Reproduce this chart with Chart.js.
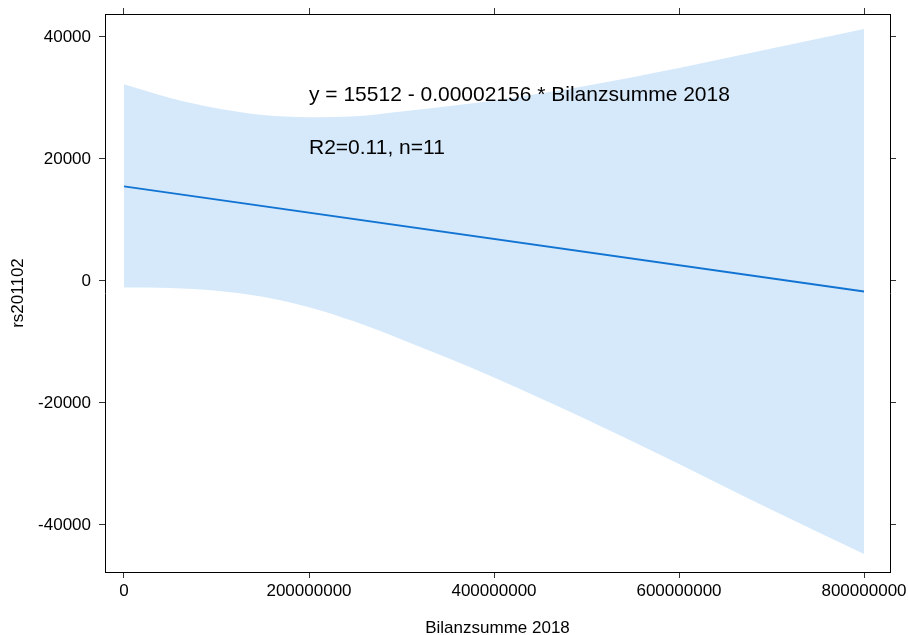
<!DOCTYPE html>
<html>
<head>
<meta charset="utf-8">
<script src="https://cdn.jsdelivr.net/npm/chart.js@4.4.1/dist/chart.umd.min.js"></script>
<style>
  body { margin: 0; background: #fff; }
  #wrap { width: 908px; height: 635px; }
</style>
</head>
<body>
<div id="wrap"><canvas id="regChart" width="908" height="635"></canvas></div>
<script>
// confidence band
const bandX = [0, 50000000, 100000000, 150000000, 200000000, 250000000, 300000000,
  400000000, 500000000, 600000000, 700000000, 800000000];
const bandUpper = [32250, 30000, 28300, 27200, 26850, 27000, 27800, 29600, 32000, 34900, 38100, 41300];
const bandLower = [-1050, -1150, -1600, -2600, -4300, -6700, -9600, -15800, -22700, -30000, -37500, -44750];

// fitted line
const fitX = [0, 800000000];
const fitY = [15512, -1736];

const xTicks = [0, 200000000, 400000000, 600000000, 800000000];
const yTicks = [-40000, -20000, 0, 20000, 40000];
const notes = ["y = 15512 - 0.00002156 * Bilanzsumme 2018", "R2=0.11, n=11"];

function pts(xs, ys) {
  return xs.map((x, i) => ({ x: x, y: ys[i] }));
}

const FONT = "'Liberation Sans', Arial, sans-serif";

// text annotations inside the panel
const notePlugin = {
  id: 'notes',
  afterDatasetsDraw(chart) {
    const ctx = chart.ctx;
    const xs = chart.scales.x, ys = chart.scales.y;
    ctx.save();
    ctx.font = "21px " + FONT;
    ctx.fillStyle = "#000";
    ctx.textAlign = "left";
    ctx.textBaseline = "middle";
    ctx.fillText(notes[0], xs.getPixelForValue(200000000), ys.getPixelForValue(30500));
    ctx.fillText(notes[1], xs.getPixelForValue(200000000), ys.getPixelForValue(21800));
    ctx.restore();
  }
};

const xRange = { min: -20540000, max: 828100000 };
const yRange = { min: -47705, max: 43770 };

function setTicks(list) {
  return function(scale) { scale.ticks = list.map(v => ({ value: v })); };
}

// fixed box sizes, no extra room for overhanging labels
function fixSize(w, h) {
  return function(s) {
    if (w !== null) s.width = w;
    if (h !== null) s.height = h;
    s.paddingLeft = 0; s.paddingRight = 0; s.paddingTop = 0; s.paddingBottom = 0;
  };
}

const gridOpts = { drawOnChartArea: false, drawTicks: true, tickLength: 6, color: "#333" };
const borderOpts = { display: true, color: "#000", width: 1 };
const tickFont = { family: FONT, size: 17 };

var config = {
  type: 'line',
  data: {
    datasets: [
      {
        label: "fit",
        data: pts(fitX, fitY),
        borderColor: "#1274d2",
        borderWidth: 2,
        pointRadius: 0,
        fill: false
      },
      {
        label: "upper",
        data: pts(bandX, bandUpper),
        borderWidth: 0,
        borderColor: "rgba(0,0,0,0)",
        backgroundColor: "#d6e9fb",
        pointRadius: 0,
        cubicInterpolationMode: 'monotone',
        fill: '+1'
      },
      {
        label: "lower",
        data: pts(bandX, bandLower),
        borderWidth: 0,
        borderColor: "rgba(0,0,0,0)",
        pointRadius: 0,
        cubicInterpolationMode: 'monotone',
        fill: false
      }
    ]
  },
  options: {
    responsive: false,
    animation: false,
    layout: { padding: 0 },
    plugins: { legend: { display: false }, tooltip: { enabled: false } },
    scales: {
      x: {
        type: 'linear', position: 'bottom', min: xRange.min, max: xRange.max,
        afterBuildTicks: setTicks(xTicks),
        afterFit: fixSize(null, 63),
        ticks: { font: tickFont, color: "#000", padding: 3, maxRotation: 0, autoSkip: false,
                 callback: v => String(v) },
        grid: gridOpts, border: borderOpts,
        title: { display: true, text: "Bilanzsumme 2018", font: tickFont, color: "#000",
                 padding: { top: 0, bottom: -4 } }
      },
      x2: {
        type: 'linear', position: 'top', min: xRange.min, max: xRange.max,
        afterBuildTicks: setTicks(xTicks),
        afterFit: fixSize(null, 14),
        ticks: { display: false },
        grid: gridOpts, border: borderOpts
      },
      y: {
        type: 'linear', position: 'left', min: yRange.min, max: yRange.max,
        afterBuildTicks: setTicks(yTicks),
        afterFit: fixSize(105, null),
        ticks: { font: tickFont, color: "#000", padding: 8, callback: v => String(v) },
        grid: gridOpts, border: borderOpts,
        title: { display: true, text: "rs201102", font: tickFont, color: "#000",
                 padding: { top: 8, bottom: 0 } }
      },
      y2: {
        type: 'linear', position: 'right', min: yRange.min, max: yRange.max,
        afterBuildTicks: setTicks(yTicks),
        afterFit: fixSize(18, null),
        ticks: { display: false },
        grid: gridOpts, border: borderOpts
      }
    }
  },
  plugins: [notePlugin]
};

var ctx = document.getElementById('regChart').getContext('2d');
new Chart(ctx, config);
</script>
</body>
</html>
